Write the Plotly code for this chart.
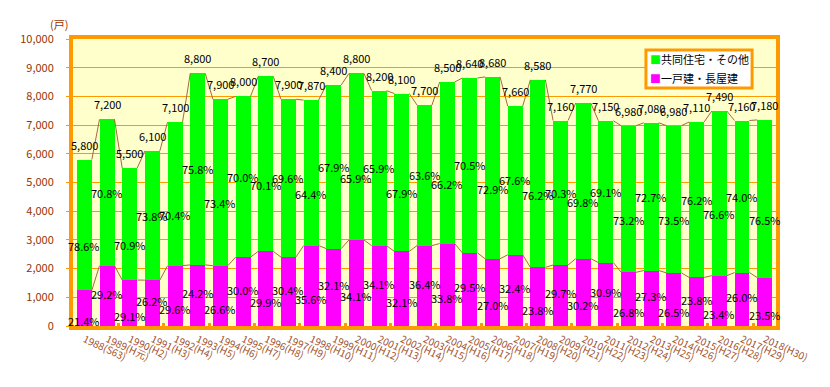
import plotly.graph_objects as go

# ---------------- data ----------------
years = list(range(1988, 2019))
eras = ["S63", "H元"] + [f"H{n}" for n in range(2, 31)]
totals = [5800, 7200, 5500, 6100, 7100, 8800, 7900, 8000, 8700, 7900,
          7870, 8400, 8800, 8200, 8100, 7700, 8500, 8640, 8680, 7660,
          8580, 7160, 7770, 7150, 6980, 7080, 6980, 7110, 7490, 7160, 7180]
pct_apartment = [78.6, 70.8, 70.9, 73.8, 70.4, 75.8, 73.4, 70.0, 70.1, 69.6,
                 64.4, 67.9, 65.9, 65.9, 67.9, 63.6, 66.2, 70.5, 72.9, 67.6,
                 76.2, 70.3, 69.8, 69.1, 73.2, 72.7, 73.5, 76.2, 76.6, 74.0, 76.5]
pct_detached = [21.4, 29.2, 29.1, 26.2, 29.6, 24.2, 26.6, 30.0, 29.9, 30.4,
                35.6, 32.1, 34.1, 34.1, 32.1, 36.4, 33.8, 29.5, 27.0, 32.4,
                23.8, 29.7, 30.2, 30.9, 26.8, 27.3, 26.5, 23.8, 23.4, 26.0, 23.5]
series_names = ["一戸建・長屋建", "共同住宅・その他"]
unit_label = "(戸)"

# ---------------- derived ----------------
n = len(years)
xs = list(range(n))
detached = [t * p / 100 for t, p in zip(totals, pct_detached)]
apartment = [t - d for t, d in zip(totals, detached)]
tick_text = [f"{y}({e})" for y, e in zip(years, eras)]

GREEN = "#00FF00"
MAGENTA = "#FF00FF"
ORANGE = "#FF9900"
BROWN = "#993300"
LINE_BROWN = "#A86A3C"
BAR_W = 0.66
FONT = "Noto Sans CJK JP"
colors = [MAGENTA, GREEN]

fig = go.Figure()
for vals, name, col in zip((detached, apartment), series_names, colors):
    fig.add_trace(go.Bar(x=xs, y=vals, name=name, marker_color=col,
                         marker_line_width=0, width=BAR_W, showlegend=False))


def series_line(vals):
    lx, ly = [], []
    for i in range(n - 1):
        lx += [xs[i] + BAR_W / 2, xs[i + 1] - BAR_W / 2, None]
        ly += [vals[i], vals[i + 1], None]
    return lx, ly


for vals in (totals, detached):
    lx, ly = series_line(vals)
    fig.add_trace(go.Scatter(x=lx, y=ly, mode="lines", line=dict(color=LINE_BROWN, width=1),
                             showlegend=False, hoverinfo="skip"))

annotations = []
for i in xs:
    annotations.append(dict(x=i, y=totals[i], text=f"{totals[i]:,}", showarrow=False,
                            yanchor="bottom", yshift=5, font=dict(size=11, color="black", family=FONT)))
    even = (i % 2 == 0)
    annotations.append(dict(x=i, y=detached[i] + apartment[i] / 2, text=f"{pct_apartment[i]:.1f}%",
                            showarrow=False, yshift=-21 if even else 0,
                            font=dict(size=11, color="black", family=FONT)))
    annotations.append(dict(x=i, y=detached[i] / 2, text=f"{pct_detached[i]:.1f}%",
                            showarrow=False, yshift=-13 if even else 2,
                            font=dict(size=11, color="black", family=FONT)))

annotations.append(dict(xref="paper", yref="paper", x=-0.004, y=1.052, xanchor="right", yanchor="middle",
                        text=unit_label, showarrow=False, font=dict(size=11, color=BROWN, family=FONT)))

# legend box (top series first, like the reference)
legend_rows = [(series_names[1], GREEN, 0.930), (series_names[0], MAGENTA, 0.864)]
for name, col, yy in legend_rows:
    annotations.append(dict(xref="paper", yref="paper", x=0.818, y=yy, xanchor="left", yanchor="middle",
                            text=f"<span style='color:{col}'>■</span>{name}", showarrow=False,
                            font=dict(size=11, color="black", family=FONT)))
shapes = [dict(type="rect", xref="paper", yref="paper", x0=0.815, x1=0.966, y0=0.829, y1=0.962,
               line=dict(color=ORANGE, width=3), fillcolor="white", layer="above")]

# page body adds an 8px offset, so the figure is 8px smaller and margins compensate
fig.update_layout(
    width=822, height=379,
    margin=dict(l=59, r=54, t=31, b=61),
    paper_bgcolor="white", plot_bgcolor="#FFFFCC",
    barmode="stack", bargap=0,
    font=dict(family=FONT, size=11),
    annotations=annotations,
    shapes=shapes,
    showlegend=False,
)
fig.update_xaxes(range=[-0.5, n - 0.5], tickmode="array", tickvals=xs, ticktext=tick_text,
                 tickangle=25, tickfont=dict(size=10, color="#A0522D", family=FONT),
                 showgrid=False, zeroline=False, showline=True, mirror=True,
                 linecolor=ORANGE, linewidth=4, ticks="",
                 minor=dict(tickmode="array", tickvals=[i + 0.5 for i in xs[1:-1:2]],
                            ticks="inside", ticklen=3, tickwidth=3, tickcolor=ORANGE, showgrid=False))
fig.update_yaxes(range=[0, 10000], tickmode="linear", tick0=0, dtick=1000, tickformat=",d",
                 tickfont=dict(size=11, color=BROWN, family=FONT),
                 showgrid=True, gridcolor=ORANGE, gridwidth=1, zeroline=False,
                 showline=True, mirror=True, linecolor=ORANGE, linewidth=4,
                 ticks="outside", ticklen=3, tickcolor=ORANGE, ticklabelstandoff=10)

fig.write_html("out.html")
